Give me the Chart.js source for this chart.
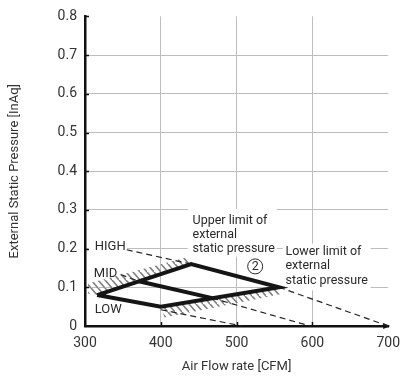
<!DOCTYPE html>
<html>
<head>
<meta charset="utf-8">
<script src="https://cdn.jsdelivr.net/npm/chart.js@4/dist/chart.umd.min.js"></script>
<style>
  html, body { margin: 0; padding: 0; background: #fff; }
  #wrap { width: 409px; height: 379px; }
</style>
</head>
<body>
<div id="wrap"><canvas id="c" width="409" height="379"></canvas></div>
<script>
// axis ticks
const xTicks = [300, 400, 500, 600, 700];
const xTickLabels = ['300', '400', '500', '600', '700'];
const yTicks = [0, 0.1, 0.2, 0.3, 0.4, 0.5, 0.6, 0.7, 0.8];
const yTickLabels = ['0', '0.1', '0.2', '0.3', '0.4', '0.5', '0.6', '0.7', '0.8'];

// operating envelope (thick line), CFM / InAq
const envelopeFlow = [316, 440, 556, 400, 316];
const envelopeEsp  = [0.08, 0.16, 0.10, 0.05, 0.08];
const midFlow = [371, 468];
const midEsp  = [0.1155, 0.072];

// dashed fan curves
const highLeadFlow = [355, 440];
const highLeadEsp  = [0.197, 0.16];
const upperTailFlow = [556, 700];
const upperTailEsp  = [0.10, 0.0];
const midLeadFlow = [347, 371];
const midLeadEsp  = [0.133, 0.1155];
const midTailFlow = [468, 597];
const midTailEsp  = [0.072, 0.0];
const lowTailFlow = [400, 507];
const lowTailEsp  = [0.042, 0.0];

// hatched bands
const upperBandFlow = [304, 304, 436, 441, 316, 304];
const upperBandEsp  = [0.084, 0.11, 0.178, 0.16, 0.08, 0.084];
const lowerBandFlow = [400, 556, 558, 405, 400];
const lowerBandEsp  = [0.05, 0.10, 0.082, 0.022, 0.05];

// labels
const curveLabels = [
  { text: 'HIGH', x: 312.9, y: 0.205 },
  { text: 'MID',  x: 311.6, y: 0.136 },
  { text: 'LOW',  x: 312.9, y: 0.041 }
];
const upperLimitText = ['Upper limit of', 'external', 'static pressure'];
const lowerLimitText = ['Lower limit of', 'external', 'static pressure'];

const pts = (xs, ys) => xs.map((x, i) => ({ x, y: ys[i] }));

function hatchPattern(){
  const c = document.createElement('canvas');
  c.width = 7; c.height = 8;
  const g = c.getContext('2d');
  g.strokeStyle = '#808080';
  g.lineWidth = 1.6;
  g.beginPath();
  g.moveTo(-1, -8/7); g.lineTo(8, 8 + 8/7);
  g.moveTo(-8, -8); g.lineTo(1, 8/7);
  g.moveTo(6, -8/7); g.lineTo(15, 8);
  g.stroke();
  return g.createPattern(c, 'repeat');
}
const hatch = hatchPattern();

const thick = (data) => ({ data, borderColor: '#151515', borderWidth: 4, pointRadius: 0, fill: false, borderJoinStyle: 'miter', tension: 0 });
const dashed = (data) => ({ data, borderColor: '#222', borderWidth: 1.2, borderDash: [6, 4], pointRadius: 0, fill: false, tension: 0 });
const band = (data) => ({ data, borderColor: 'transparent', borderWidth: 0, pointRadius: 0, backgroundColor: hatch, fill: 'shape', tension: 0 });

const FONT = 'Roboto, "Open Sans", sans-serif';
const TXT = '#2a2a2a';

const overlay = {
  id: 'overlay',
  beforeDatasetsDraw(chart){
    const { ctx, scales: { x, y }, chartArea: a } = chart;
    ctx.save();
    ctx.fillStyle = '#fff';
    const box = (x0, x1, y0, y1) => {
      const px0 = x.getPixelForValue(x0), px1 = x.getPixelForValue(x1);
      const py0 = y.getPixelForValue(y0), py1 = y.getPixelForValue(y1);
      ctx.fillRect(px0, py0, px1 - px0, py1 - py0);
    };
    box(303.9, 355.5, 0.221, 0.185);
    box(435.5, 552.9, 0.3026, 0.1795);
    box(560.6, 676.8, 0.2128, 0.0923);
    // inner tick marks
    ctx.strokeStyle = '#111';
    ctx.lineWidth = 1.5;
    ctx.beginPath();
    yTicks.slice(1).forEach(v => {
      const py = Math.round(y.getPixelForValue(v)) + 0.5;
      ctx.moveTo(a.left, py); ctx.lineTo(a.left + 4, py);
    });
    xTicks.slice(1, 4).forEach(v => {
      const px = Math.round(x.getPixelForValue(v)) + 0.5;
      ctx.moveTo(px, a.bottom); ctx.lineTo(px, a.bottom - 4);
    });
    ctx.stroke();
    // arrow tip at end of x axis
    ctx.fillStyle = '#111';
    ctx.beginPath();
    ctx.moveTo(a.right - 5, a.bottom - 3);
    ctx.lineTo(a.right + 2, a.bottom);
    ctx.lineTo(a.right - 5, a.bottom + 3);
    ctx.closePath();
    ctx.fill();
    ctx.restore();
  },
  afterDatasetsDraw(chart){
    const { ctx, scales: { x, y } } = chart;
    ctx.save();
    ctx.fillStyle = TXT;
    ctx.font = '13px ' + FONT;
    ctx.textAlign = 'left';
    ctx.textBaseline = 'middle';
    curveLabels.forEach(l => ctx.fillText(l.text, x.getPixelForValue(l.x), y.getPixelForValue(l.y)));
    ctx.font = '12.5px ' + FONT;
    const ux = x.getPixelForValue(441.9), uy = y.getPixelForValue(0.272);
    upperLimitText.forEach((t, i) => ctx.fillText(t, ux, uy + i * 14));
    const lx = x.getPixelForValue(564.5), ly = y.getPixelForValue(0.192);
    lowerLimitText.forEach((t, i) => ctx.fillText(t, lx, ly + i * 14.5));
    // circled 2
    const cx = x.getPixelForValue(524.5), cy = y.getPixelForValue(0.154);
    ctx.strokeStyle = TXT;
    ctx.lineWidth = 1;
    ctx.beginPath();
    ctx.arc(cx, cy, 7.5, 0, Math.PI * 2);
    ctx.stroke();
    ctx.textAlign = 'center';
    ctx.fillText('2', cx, cy + 0.5);
    ctx.restore();
  }
};

new Chart(document.getElementById('c'), {
  type: 'line',
  data: {
    datasets: [
      thick(pts(envelopeFlow, envelopeEsp)),
      thick(pts(midFlow, midEsp)),
      dashed(pts(highLeadFlow, highLeadEsp)),
      dashed(pts(upperTailFlow, upperTailEsp)),
      dashed(pts(midLeadFlow, midLeadEsp)),
      dashed(pts(midTailFlow, midTailEsp)),
      dashed(pts(lowTailFlow, lowTailEsp)),
      band(pts(upperBandFlow, upperBandEsp)),
      band(pts(lowerBandFlow, lowerBandEsp))
    ]
  },
  options: {
    responsive: false,
    animation: false,
    layout: { padding: { left: 0, right: 14, top: 14, bottom: 0 } },
    plugins: { legend: { display: false }, tooltip: { enabled: false } },
    scales: {
      x: {
        type: 'linear', min: 300, max: 700,
        afterBuildTicks: s => { s.ticks = xTicks.map(v => ({ value: v })); },
        afterFit: s => { s.height = 53; },
        ticks: { callback: (v, i) => xTickLabels[i], color: '#333', font: { family: FONT, size: 14 }, padding: 9, maxRotation: 0 },
        grid: { drawTicks: false, color: c => (c.index === 0 || c.index === 4) ? 'transparent' : '#bdbdbd', lineWidth: 1 },
        border: { display: true, color: '#111', width: 2.5 },
        title: { display: true, text: 'Air Flow rate [CFM]', color: '#333', font: { family: FONT, size: 13 }, padding: { top: 0, bottom: 4 } }
      },
      y: {
        type: 'linear', min: 0, max: 0.8,
        afterBuildTicks: s => { s.ticks = yTicks.map(v => ({ value: v })); },
        afterFit: s => { s.width = 85; },
        ticks: { callback: (v, i) => yTickLabels[i], color: '#333', font: { family: FONT, size: 14 }, padding: 8 },
        grid: { drawTicks: false, color: c => (c.index === 0 || c.index === 8) ? 'transparent' : '#bdbdbd', lineWidth: 1 },
        border: { display: true, color: '#111', width: 2.5 },
        title: { display: true, text: 'External Static Pressure [InAq]', color: '#333', font: { family: FONT, size: 13 }, padding: { top: 7, bottom: 0 } }
      }
    }
  },
  plugins: [overlay]
});
</script>
</body>
</html>
